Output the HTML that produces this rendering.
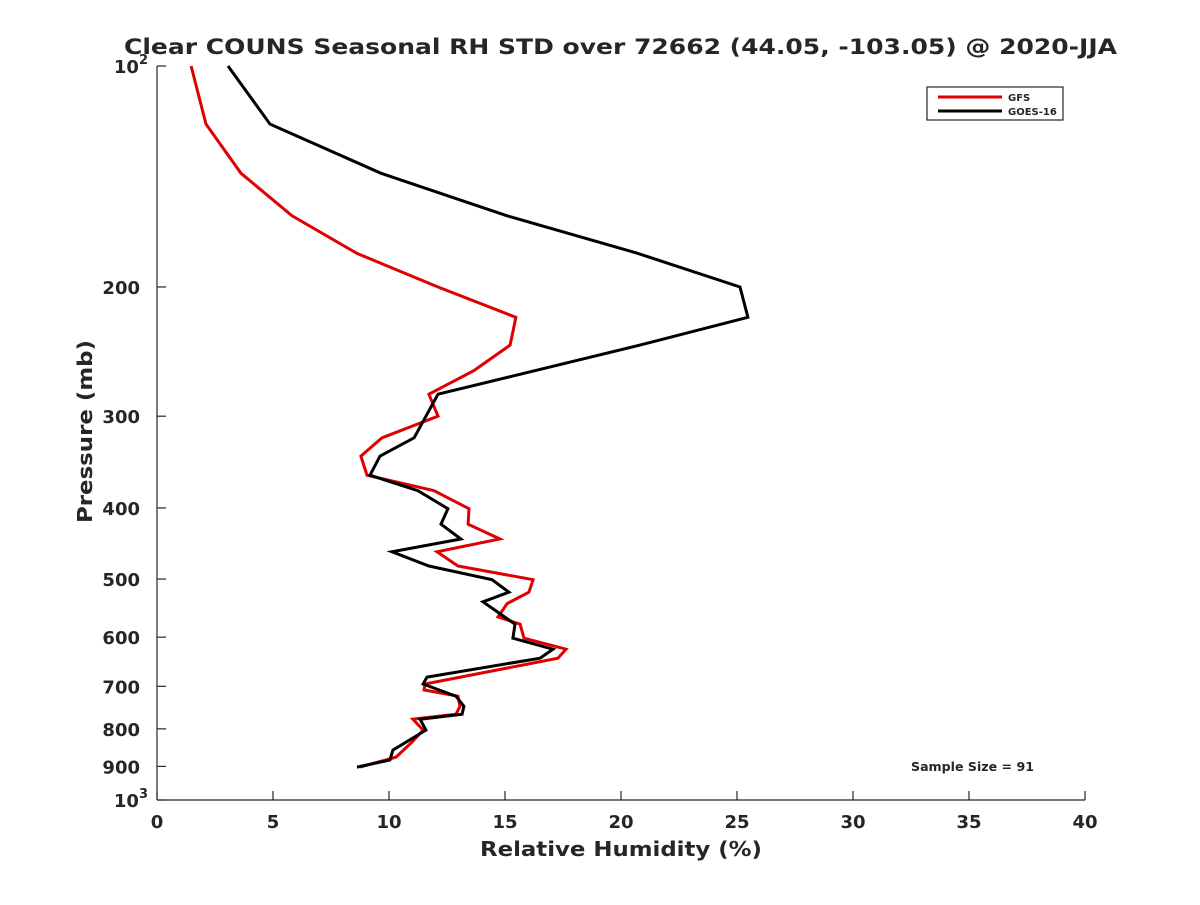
<!DOCTYPE html>
<html><head><meta charset="utf-8"><style>
body{margin:0;background:#fff;}
svg text{font-family:"DejaVu Sans","Liberation Sans",sans-serif;font-weight:bold;fill:#262626;}
</style></head><body>
<svg id="chart" width="1200" height="900" xmlns="http://www.w3.org/2000/svg">
<rect width="1200" height="900" fill="#fff"/>
<text x="124" y="54" font-size="21" textLength="993" lengthAdjust="spacingAndGlyphs" fill="#000">Clear COUNS Seasonal RH STD over 72662 (44.05, -103.05) @ 2020-JJA</text>
<g id="axes"></g>
<g id="series"></g>
<text x="480" y="856" font-size="20" textLength="282" lengthAdjust="spacingAndGlyphs">Relative Humidity (%)</text>
<text transform="translate(92,523) rotate(-90)" font-size="20" textLength="183" lengthAdjust="spacingAndGlyphs">Pressure (mb)</text>
<g>
<rect x="927" y="87" width="136" height="33" fill="#fff" stroke="#262626" stroke-width="1.2"/>
<line x1="938" y1="97" x2="1002" y2="97" stroke="#e00000" stroke-width="3"/>
<text x="1008" y="101" font-size="10">GFS</text>
<line x1="938" y1="111" x2="1002" y2="111" stroke="#000" stroke-width="3"/>
<text x="1008" y="115" font-size="10">GOES-16</text>
</g>
<text x="911" y="771" font-size="12" textLength="123" lengthAdjust="spacingAndGlyphs" fill="#000">Sample Size = 91</text>
</svg>
<script>
const xTicks=[0,5,10,15,20,25,30,35,40];
const yTicks=[100,200,300,400,500,600,700,800,900,1000];
const yTickLabels=["10²","200","300","400","500","600","700","800","900","10³"];
const gfsP=[100,120,140,160,180,200,220,240,260,280,300,321,340,361,379,401,421,441,459,480,501,521,540,563,576,602,623,641,695,708,722,745,764,776,803,834,874,902];
const gfsRH=[1.47,2.11,3.62,5.82,8.62,12.11,15.47,15.22,13.66,11.72,12.11,9.70,8.79,9.05,11.94,13.45,13.41,14.78,12.07,12.97,16.21,16.03,15.09,14.70,15.65,15.82,17.63,17.28,11.55,11.51,12.97,13.06,12.89,11.03,11.47,10.99,10.30,8.75];
const goesP=[100,120,140,160,180,200,220,240,265,280,321,340,361,379,401,421,441,459,480,501,521,537,576,602,623,641,680,695,722,745,764,776,803,855,882,902];
const goesRH=[3.06,4.87,9.66,15.09,20.73,25.13,25.47,20.82,15.22,12.11,11.08,9.61,9.18,11.25,12.54,12.24,13.10,10.13,11.72,14.44,15.17,14.05,15.43,15.34,17.07,16.51,11.64,11.47,12.89,13.23,13.15,11.34,11.59,10.17,10.04,8.62];
const X0=157,X1=1085,Y0=66,Y1=800;
const xs=v=>X0+(v-0)/(40-0)*(X1-X0);
const ys=p=>Y0+(Math.log10(p)-2)*(Y1-Y0);
const NS="http://www.w3.org/2000/svg";
function mk(tag,attrs,parent){const e=document.createElementNS(NS,tag);for(const k in attrs)e.setAttribute(k,attrs[k]);parent.appendChild(e);return e;}
const axes=document.getElementById('axes');
let a=mk('line',{x1:X0,y1:Y0,x2:X0,y2:Y1,stroke:'#262626','stroke-width':1.2},axes);


a=mk('line',{x1:X0,y1:Y1,x2:X1,y2:Y1,stroke:'#262626','stroke-width':1.2},axes);


xTicks.forEach(v=>{
  const x=xs(v);
  const t=mk('line',{x1:x,y1:Y1,x2:x,y2:Y1-9,stroke:'#262626','stroke-width':1.2},axes);
  
  
  const l=mk('text',{x:x,y:Y1+28,'font-size':18,'text-anchor':'middle'},axes);
  l.textContent=v;
  
  
});
yTicks.forEach((p,i)=>{
  const y=ys(p);
  const t=mk('line',{x1:X0,y1:y,x2:X0+9,y2:y,stroke:'#262626','stroke-width':1.2},axes);
  
  
  const l=mk('text',{x:X0-17,y:y+7,'font-size':18,'text-anchor':'end'},axes);
  const s=yTickLabels[i];
  if(s==='10²'||s==='10³'){l.textContent='10';const sup=mk('tspan',{dy:-9,'font-size':13},l);sup.textContent=s==='10²'?'2':'3';l.setAttribute('x',X0-9);}
  else l.textContent=s;
  
  
});
const ser=document.getElementById('series');
function draw(P,R,color,name){
  const pts=P.map((p,i)=>xs(R[i]).toFixed(1)+','+ys(p).toFixed(1)).join(' ');
  const pl=mk('polyline',{points:pts,fill:'none',stroke:color,'stroke-width':3,'stroke-linejoin':'miter'},ser);
  
  
}
draw(gfsP,gfsRH,'#e00000','gfs-line');
draw(goesP,goesRH,'#000','goes-16-line');
</script>
</body></html>
